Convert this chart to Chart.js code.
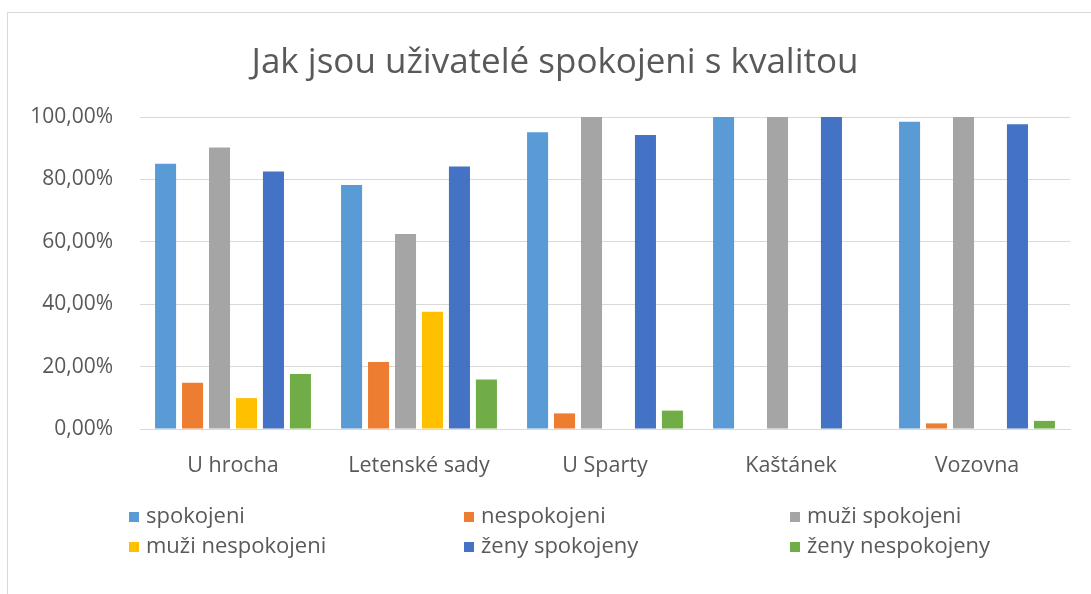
<!DOCTYPE html>
<html>
<head>
<meta charset="utf-8">
<script src="https://cdn.jsdelivr.net/npm/chart.js@4"></script>
<style>
    html, body { margin: 0; background: #fff; overflow: hidden; font-family: "Open Sans", sans-serif; }
    #frame { position: absolute; left: 7px; top: 12px; width: 1100px; height: 600px; border: 1px solid #d9d9d9; }
    #wrap { position: absolute; left: 0; top: 0; width: 1091px; height: 594px; }
    #legend { position: absolute; left: 0; top: 499px; width: 1091px; }
    .item { position: absolute; font-size: 22px; color: #595959; line-height: 30px; white-space: nowrap; }
    .box { display: inline-block; width: 10px; height: 10px; margin-right: 7px; vertical-align: 1px; }
</style>
</head>
<body>
<div id="frame"></div>
<div id="wrap"><canvas id="chart" width="1091" height="594"></canvas></div>
<div id="legend"></div>
<script>
// categories and values (percent)
const places = ['U hrocha', 'Letenské sady', 'U Sparty', 'Kaštánek', 'Vozovna'];
const seriesNames = ['spokojeni', 'nespokojeni', 'muži spokojeni', 'muži nespokojeni', 'ženy spokojeny', 'ženy nespokojeny'];
const seriesColors = ['#5B9BD5', '#ED7D31', '#A5A5A5', '#FFC000', '#4472C4', '#70AD47'];

const spokojeni = [85.0, 78.2, 95.1, 100, 98.5];
const nespokojeni = [14.8, 21.5, 5.0, 0, 1.8];
const muziSpokojeni = [90.2, 62.5, 100, 100, 100];
const muziNespokojeni = [9.9, 37.6, 0, 0, 0];
const zenySpokojeny = [82.5, 84.1, 94.2, 100, 97.7];
const zenyNespokojeny = [17.6, 15.9, 5.9, 0, 2.6];

const yTicks = [0, 20, 40, 60, 80, 100];

const seriesValues = [spokojeni, nespokojeni, muziSpokojeni, muziNespokojeni, zenySpokojeny, zenyNespokojeny];

const datasets = seriesNames.map((name, i) => ({
    label: name,
    data: seriesValues[i],
    backgroundColor: seriesColors[i],
    categoryPercentage: 0.87,
    barPercentage: 0.78
}));

// the original title sits a bit right of the canvas centre
const shiftTitle = {
    id: 'shiftTitle',
    afterLayout(chart) {
        const t = chart.titleBlock;
        if (t) { t.left += 20; t.right += 20; }
    }
};

const ctx = document.getElementById('chart').getContext('2d');
const chart = new Chart(ctx, {
    type: 'bar',
    data: { labels: places, datasets: datasets },
    plugins: [shiftTitle],
    options: {
        responsive: false,
        animation: false,
        layout: { padding: { left: 0, right: 21, top: 0, bottom: 93 } },
        plugins: {
            legend: { display: false },
            tooltip: { enabled: false },
            title: {
                display: true,
                text: 'Jak jsou uživatelé spokojeni s kvalitou',
                color: '#595959',
                font: { family: 'Open Sans', size: 35, weight: 'normal' },
                padding: { top: 42, bottom: 33 }
            }
        },
        scales: {
            x: {
                grid: { display: false, drawTicks: false },
                border: { display: true, color: '#d9d9d9' },
                ticks: { color: '#595959', font: { family: 'Open Sans', size: 21.5 }, padding: 24 },
                afterFit: scale => { scale.height = 72; }
            },
            y: {
                min: 0,
                max: 100,
                afterBuildTicks: scale => { scale.ticks = yTicks.map(v => ({ value: v })); },
                grid: { color: '#d9d9d9', drawTicks: false },
                border: { display: false },
                ticks: {
                    color: '#595959',
                    font: { family: 'Open Sans', size: 21 },
                    padding: 27,
                    callback: v => v.toFixed(2).replace('.', ',') + '%'
                },
                afterFit: scale => { scale.width = 140; }
            }
        }
    }
});

// legend in three columns like the original
const legendX = [129, 464, 790];
const legend = document.getElementById('legend');
chart.data.datasets.forEach((ds, i) => {
    const item = document.createElement('div');
    item.className = 'item';
    item.style.left = legendX[i % 3] + 'px';
    item.style.top = (Math.floor(i / 3) * 30) + 'px';
    item.innerHTML = '<span class="box" style="background:' + ds.backgroundColor + '"></span>' + ds.label;
    legend.appendChild(item);
});
</script>
</body>
</html>
